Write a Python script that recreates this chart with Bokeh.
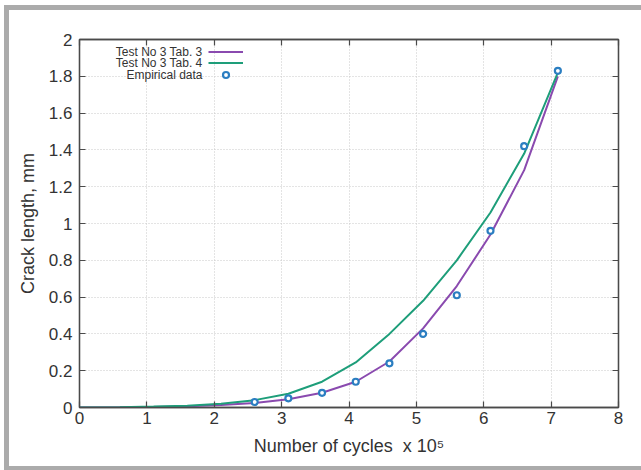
from bokeh.plotting import figure
from bokeh.models import (LinearAxis, FixedTicker, NumeralTickFormatter, CustomJSTickFormatter,
                          Legend, LegendItem, Label, Range1d)
from bokeh.embed import file_html
from bokeh.resources import INLINE

# ---- data ----
model_x = [0, 0.6, 1.1, 1.6, 2.1, 2.6, 3.1, 3.6, 4.1, 4.6, 5.1, 5.6, 6.1, 6.6, 7.1]
tab3_y = [0, 0.001, 0.003, 0.007, 0.013, 0.025, 0.045, 0.08, 0.14, 0.25, 0.43, 0.66, 0.94, 1.29, 1.80]
tab4_y = [0, 0.002, 0.005, 0.010, 0.020, 0.040, 0.075, 0.14, 0.245, 0.40, 0.58, 0.80, 1.06, 1.38, 1.82]
emp_x = [2.6, 3.1, 3.6, 4.1, 4.6, 5.1, 5.6, 6.1, 6.6, 7.1]
emp_y = [0.03, 0.05, 0.08, 0.14, 0.24, 0.40, 0.61, 0.96, 1.42, 1.83]
series_names = ["Test No 3 Tab. 3", "Test No 3 Tab. 4", "Empirical data"]
x_ticks = [0, 1, 2, 3, 4, 5, 6, 7, 8]
y_ticks = [0, 0.2, 0.4, 0.6, 0.8, 1.0, 1.2, 1.4, 1.6, 1.8, 2.0]

PURPLE = "#8a4aaf"
GREEN = "#1e9e7a"
BLUE = "#2b7ec1"
AXC = "#4a4a4a"
GREY = "#ababab"
FONT = "Liberation Sans"

p = figure(width=632, height=456, frame_width=539, frame_height=368,
           min_border_left=70, min_border_right=23, min_border_top=29, min_border_bottom=59,
           x_range=Range1d(0, 8), y_range=Range1d(0, 2),
           output_backend="svg", toolbar_location=None)
p.styles = {"margin-left": "4px", "margin-top": "5px",
            "border-left": f"5px solid {GREY}", "border-top": f"5px solid {GREY}",
            "border-bottom": f"4px solid {GREY}"}
p.background_fill_color = "white"
p.border_fill_color = "white"
p.outline_line_color = AXC
p.outline_line_width = 1.3

for ax in (p.xaxis[0], p.yaxis[0]):
    ax.major_tick_in = 6
    ax.major_tick_out = 0
    ax.minor_tick_line_color = None
    ax.axis_line_color = AXC
    ax.axis_line_width = 1.3
    ax.major_tick_line_color = AXC
    ax.major_tick_line_width = 1.2
    ax.major_label_text_font = FONT
    ax.major_label_text_font_size = "17px"
    ax.major_label_text_color = "#333333"
    ax.axis_label_text_font = FONT
    ax.axis_label_text_font_size = "18px"
    ax.axis_label_text_font_style = "normal"
    ax.axis_label_text_color = "#333333"

p.xaxis[0].ticker = FixedTicker(ticks=x_ticks)
p.yaxis[0].ticker = FixedTicker(ticks=y_ticks)
p.yaxis[0].formatter = NumeralTickFormatter(format="0.[0]")
p.xaxis[0].formatter = NumeralTickFormatter(format="0")
p.xaxis[0].axis_label = "Number of cycles\u00a0\u00a0x 10\u2075"
p.yaxis[0].axis_label = "Crack length, mm"
p.xaxis[0].major_label_standoff = 4
p.yaxis[0].major_label_standoff = 7
p.xaxis[0].axis_label_standoff = 9
p.yaxis[0].axis_label_standoff = 8

blank = CustomJSTickFormatter(code="return ''")
top_ax = LinearAxis(ticker=FixedTicker(ticks=x_ticks), formatter=blank)
right_ax = LinearAxis(ticker=FixedTicker(ticks=y_ticks), formatter=blank)
for ax in (top_ax, right_ax):
    ax.major_tick_in = 6
    ax.major_tick_out = 0
    ax.minor_tick_line_color = None
    ax.axis_line_color = AXC
    ax.axis_line_width = 1.3
    ax.major_tick_line_color = AXC
    ax.major_tick_line_width = 1.2
    ax.major_label_text_font_size = "1px"
p.add_layout(top_ax, "above")
p.add_layout(right_ax, "right")

p.xgrid.ticker = FixedTicker(ticks=x_ticks)
p.ygrid.ticker = FixedTicker(ticks=y_ticks)
for g in (p.xgrid[0], p.ygrid[0]):
    g.grid_line_color = "#c8c8c8"
    g.grid_line_dash = "1 2"
    g.grid_line_width = 1

r3 = p.line(model_x, tab3_y, line_color=PURPLE, line_width=2)
r4 = p.line(model_x, tab4_y, line_color=GREEN, line_width=2)
re = p.scatter(emp_x, emp_y, marker="circle", size=6, line_color=BLUE, line_width=2.2,
               fill_color="white")

leg_common = dict(padding=0, margin=0, spacing=0, glyph_width=35,
                  label_text_font_size="8px", label_text_alpha=0,
                  background_fill_alpha=0, border_line_color=None)
legend_lines = Legend(items=[LegendItem(label=series_names[0], renderers=[r3]),
                             LegendItem(label=series_names[1], renderers=[r4])],
                      location=(129, 339), glyph_height=11, label_height=11, **leg_common)
legend_pts = Legend(items=[LegendItem(label=series_names[2], renderers=[re])],
                    location=(129, 325), glyph_height=15, label_height=15, **leg_common)
p.add_layout(legend_lines)
p.add_layout(legend_pts)

for i, name in enumerate(series_names):
    p.add_layout(Label(x=123, y=355.3 - 11.2 * i, x_units="screen", y_units="screen",
                       text=name, text_align="right", text_baseline="middle",
                       text_font=FONT, text_font_size="12px", text_color="#333333"))

open("out.html", "w").write(file_html(p, INLINE))
